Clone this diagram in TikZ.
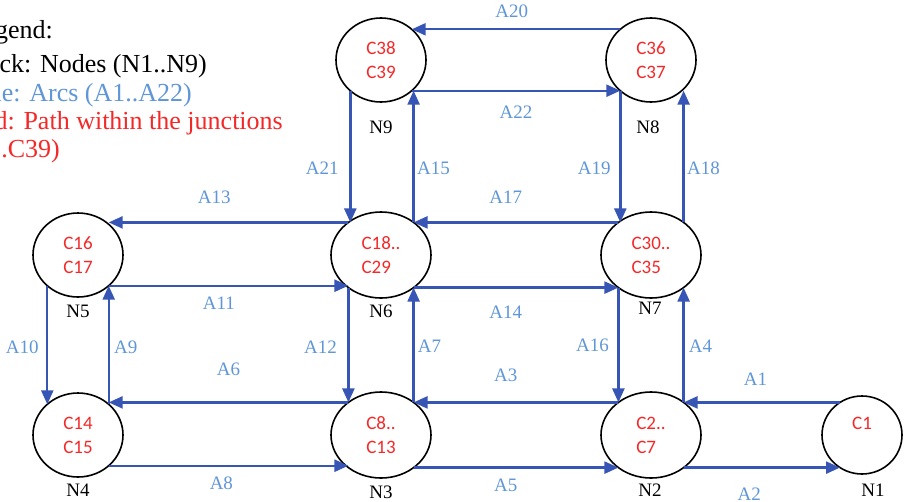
\documentclass[tikz,border=0pt]{standalone}
\usepackage{fontspec}
\setmainfont{Liberation Serif}
\newfontfamily\cfont{Carlito}
\usetikzlibrary{shapes.geometric,arrows.meta}
\definecolor{ablue}{RGB}{55,85,180}
\definecolor{lblue}{RGB}{95,150,215}
\definecolor{cred}{RGB}{245,40,40}
\begin{document}
\begin{tikzpicture}[x=1pt,y=-1pt,
  jn/.style={ellipse, draw=black, line width=1.6pt, inner sep=0pt, outer sep=0pt, text=cred, align=left, font=\cfont\fontsize{19}{24}\selectfont},
  jsmall/.style={jn, minimum width=90pt, minimum height=84pt},
  jbig/.style={jn, minimum width=100pt, minimum height=86pt},
  arc/.style={draw=ablue, line width=2.4pt, -{Triangle[length=14pt,width=12pt]}},
  lab/.style={text=lblue, font=\fontsize{19}{21}\selectfont, inner sep=0pt},
  nlab/.style={text=black, font=\fontsize{19}{21}\selectfont, inner sep=0pt},
  leg/.style={anchor=base east, inner sep=0pt, font=\fontsize{26}{30}\selectfont},
]
\clip (0,0) rectangle (905,501);
% legend
\node[leg] (lg1) at (53,38) {Legend:};
\node[leg] (lg2) at (207,72) {Black: Nodes (N1..N9)};
\node[leg, text=lblue] (lg3) at (192,101) {Blue: Arcs (A1..A22)};
\node[leg, text=cred] (lg4) at (283,129) {Red: Path within the junctions};
\node[leg, text=cred] (lg5) at (60,157) {(C1..C39)};
% junctions
\node[jsmall] (N9) at (381,60) {C38\\C39};
\node[jsmall] (N8) at (651,60) {C36\\C37};
\node[jsmall] (N5) at (78,255) {C16\\C17};
\node[jbig] (N6) at (381,255) {C18..\\C29};
\node[jbig] (N7) at (651,255) {C30..\\C35};
\node[jsmall] (N4) at (78,435) {C14\\C15};
\node[jbig] (N3) at (381,435) {C8..\\C13};
\node[jbig] (N2) at (651,435) {C2..\\C7};
\node[jn, minimum width=80pt, minimum height=78pt] (N1) at (862,435) {C1\\\mbox{}};
% node names
\node[nlab] (L9) at (381,127) {N9};
\node[nlab] (L8) at (648,127) {N8};
\node[nlab] (L5) at (78,311) {N5};
\node[nlab] (L6) at (381,311) {N6};
\node[nlab] (L7) at (650,308) {N7};
\node[nlab] (L4) at (78,490) {N4};
\node[nlab] (L3) at (381,492) {N3};
\node[nlab] (L2) at (650,490) {N2};
\node[nlab] (L1) at (873,490) {N1};
% top row
\draw[arc] (N8.135) -- (N8.135 -| N9.45) node[lab,pos=0.52,yshift=18pt] (t20) {A20};
\draw[arc] (N9.315) -- (N9.315 -| N8.225) node[lab,pos=0.5,yshift=-22pt] (t22) {A22};
% upper verticals
\draw[arc] (N9.225) -- (N9.225 |- N6.135) node[lab,pos=0.59,xshift=-28pt] (t21) {A21};
\draw[arc] (N6.45) -- (N6.45 |- N9.315) node[lab,pos=0.41,xshift=20pt] (t15) {A15};
\draw[arc] (N8.225) -- (N8.225 |- N7.135) node[lab,pos=0.59,xshift=-26pt] (t19) {A19};
\draw[arc] (N7.45) -- (N7.45 |- N8.315) node[lab,pos=0.41,xshift=20pt] (t18) {A18};
% middle horizontals
\draw[arc] (N6.135) -- (N6.135 -| N5.45) node[lab,pos=0.56,yshift=25pt] (t13) {A13};
\draw[arc] (N7.135) -- (N7.135 -| N6.45) node[lab,pos=0.55,yshift=25pt] (t17) {A17};
\draw[arc] (N5.315) -- (N5.315 -| N6.225) node[lab,pos=0.46,yshift=-18pt] (t11) {A11};
\draw[arc] (N6.315) -- (N6.315 -| N7.225) node[lab,pos=0.45,yshift=-25pt] (t14) {A14};
% lower verticals
\draw[arc] (N5.225) -- (N5.225 |- N4.135) node[lab,pos=0.52,xshift=-25pt] (t10) {A10};
\draw[arc] (N4.45) -- (N4.45 |- N5.315) node[lab,pos=0.48,xshift=17pt] (t9) {A9};
\draw[arc] (N6.225) -- (N6.225 |- N3.135) node[lab,pos=0.52,xshift=-28pt] (t12) {A12};
\draw[arc] (N3.45) -- (N3.45 |- N6.315) node[lab,pos=0.49,xshift=16pt] (t7) {A7};
\draw[arc] (N7.225) -- (N7.225 |- N2.135) node[lab,pos=0.5,xshift=-26pt] (t16) {A16};
\draw[arc] (N2.45) -- (N2.45 |- N7.315) node[lab,pos=0.49,xshift=17pt] (t4) {A4};
% bottom horizontals
\draw[arc] (N3.135) -- (N3.135 -| N4.45) node[lab,pos=0.5,yshift=33pt] (t6) {A6};
\draw[arc] (N2.135) -- (N2.135 -| N3.45) node[lab,pos=0.55,yshift=27pt] (t3) {A3};
\draw[arc] (N1.124) -- (N1.124 -| N2.45) node[lab,pos=0.54,yshift=23pt] (t1) {A1};
\draw[arc] (N4.315) -- (N4.315 -| N3.225) node[lab,pos=0.47,yshift=-18pt] (t8) {A8};
\draw[arc] (N3.315) -- (N3.315 -| N2.225) node[lab,pos=0.45,yshift=-18pt] (t5) {A5};
\draw[arc] (N2.315) -- (N2.315 -| N1.236) node[lab,pos=0.42,yshift=-27pt] (t2) {A2};
\end{tikzpicture}
\end{document}
